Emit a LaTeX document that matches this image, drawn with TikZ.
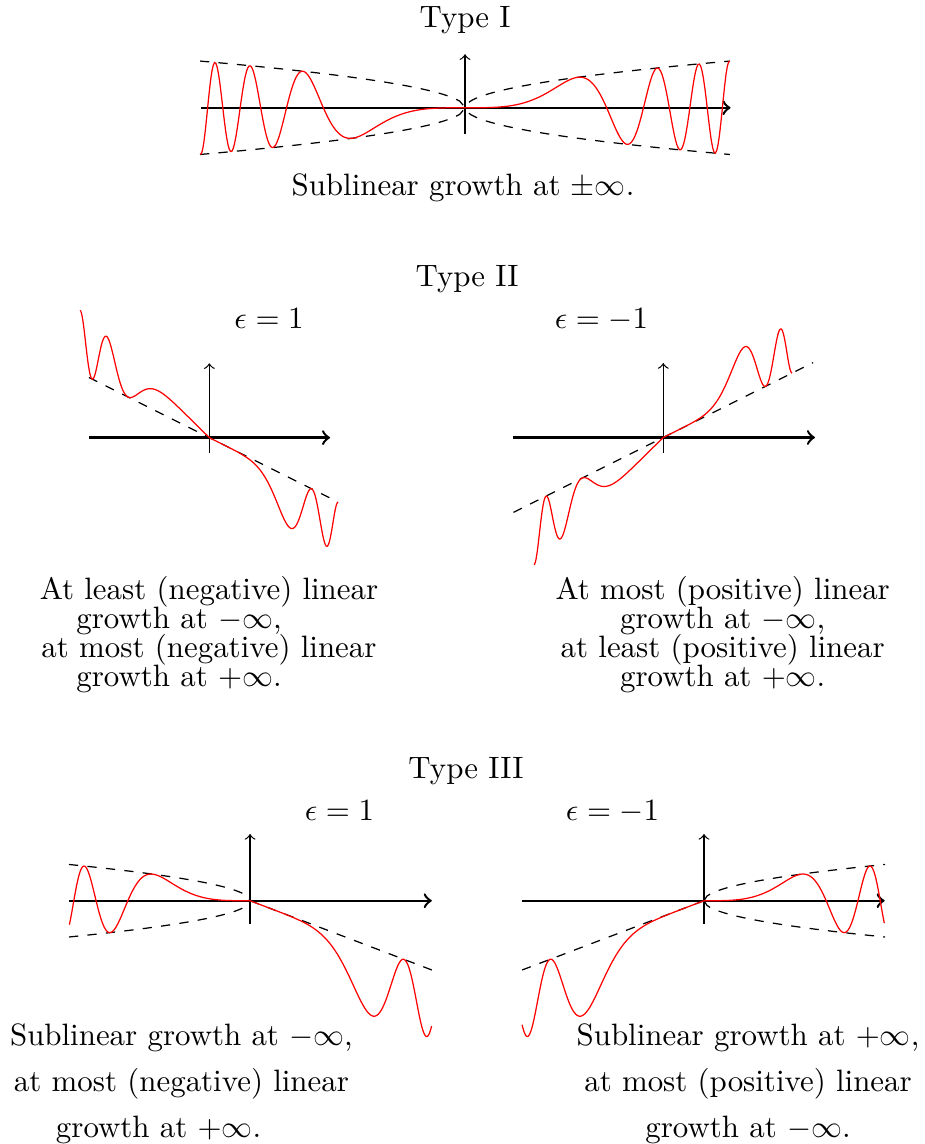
\documentclass[tikz,border=0pt]{standalone}
\tikzset{
  haxis/.style={thick,->},
  vaxis/.style={->},
  wave/.style={red,samples=400},
  bound/.style={dashed},
  declare function={
    wone(\x)=sqrt(abs(\x))*sin(\x*\x*\x r);
    wtwo(\x)=-0.5*\x+(\x<0 ? -0.243*\x*(1+cos(\x*\x*\x r)) : -0.45*(1-cos(\x*\x*\x r)));
    wthree(\x)=(\x<0 ? sqrt(abs(\x))*sin(abs(\x)*abs(\x)*abs(\x) r) : -1.291*\x-1.393*(1-cos(\x*\x*\x r)));
  }
}

\begin{document}
\begin{tikzpicture}
  \useasboundingbox (0,0) rectangle (10.521,-13.012);

  % Type I
  \node[anchor=base] (ttlI) at (5.289,-0.318) {Type I};
  \begin{scope}[shift={(5.289,-1.226)}]
    \draw[haxis] (-3.0,0) -- (3.02,0);
    \draw[vaxis] (0,-0.296) -- (0,0.609);
    \begin{scope}[x=1.1cm,y=0.321cm]
      \draw[bound] plot[domain=-2.74:2.74,samples=101] (\x,{sqrt(abs(\x))});
      \draw[bound] plot[domain=-2.74:2.74,samples=101] (\x,{-sqrt(abs(\x))});
      \draw[wave] plot[domain=-2.74:2.74] (\x,{wone(\x)});
    \end{scope}
  \end{scope}
  \node[anchor=base] (subI) at (5.266,-2.229) {Sublinear growth at $\pm\infty$.};

  % Type II
  \node[anchor=base] (ttlII) at (5.312,-3.261) {Type II};
  \node[anchor=base] (epsIIa) at (3.060,-3.731) {$\epsilon = 1$};
  \node[anchor=base] (epsIIb) at (6.841,-3.731) {$\epsilon = -1$};
  \begin{scope}[shift={(2.381,-4.978)}]
    \draw[haxis] (-1.368,0) -- (1.373,0);
    \draw[vaxis] (0,-0.177) -- (0,0.846);
    \begin{scope}[x=0.631cm,y=0.631cm]
      \draw[bound] (-2.17,1.085) -- (2.19,-1.095);
      \draw[wave] plot[domain=-2.328:2.328] (\x,{wtwo(\x)});
    \end{scope}
  \end{scope}
  \begin{scope}[shift={(7.544,-4.976)}]
    \draw[haxis] (-1.713,0) -- (1.725,0);
    \draw[vaxis] (0,-0.177) -- (0,0.846);
    \begin{scope}[x=0.631cm,y=0.631cm]
      \draw[bound] (-2.70,-1.35) -- (2.70,1.35);
      \draw[wave] plot[domain=-2.328:2.328] (\x,{-wtwo(\x)});
    \end{scope}
  \end{scope}
  % base = last line
  \node[anchor=base,align=center] (capIIa) at (2.377,-7.810)
    {At least (negative) linear\\[-2.55pt]
     growth at $-\infty$,\hspace*{19.4pt}\mbox{}\\[-2.55pt]
     at most (negative) linear\\[-2.55pt]
     growth at $+\infty$.\hspace*{19.4pt}\mbox{}};
  \node[anchor=base,align=center] (capIIb) at (8.220,-7.810)
    {At most (positive) linear\\[-2.55pt]
     growth at $-\infty$,\\[-2.55pt]
     at least (positive) linear\\[-2.55pt]
     growth at $+\infty$.};

  % Type III
  \node[anchor=base] (ttlIII) at (5.300,-8.860) {Type III};
  \node[anchor=base] (epsIIIa) at (3.861,-9.327) {$\epsilon = 1$};
  \node[anchor=base] (epsIIIb) at (6.967,-9.327) {$\epsilon = -1$};
  \begin{scope}[shift={(2.844,-10.245)}]
    \draw[haxis] (-2.055,0) -- (2.067,0);
    \draw[vaxis] (0,-0.265) -- (0,0.759);
    \begin{scope}[x=0.949cm,y=0.28cm]
      \draw[bound] plot[domain=-2.17:0,samples=61] (\x,{sqrt(abs(\x))});
      \draw[bound] plot[domain=-2.17:0,samples=61] (\x,{-sqrt(abs(\x))});
      \draw[bound] (0,0) -- (2.179,-2.813);
      \draw[wave] plot[domain=-2.165:2.18] (\x,{wthree(\x)});
    \end{scope}
  \end{scope}
  \begin{scope}[shift={(8.007,-10.245)}]
    \draw[haxis] (-2.07,0) -- (2.055,0);
    \draw[vaxis] (0,-0.265) -- (0,0.759);
    \begin{scope}[x=0.949cm,y=0.28cm]
      \draw[bound] plot[domain=0:2.17,samples=61] (\x,{sqrt(abs(\x))});
      \draw[bound] plot[domain=0:2.17,samples=61] (\x,{-sqrt(abs(\x))});
      \draw[bound] (0,0) -- (-2.179,-2.813);
      \draw[wave] plot[domain=-2.18:2.165] (\x,{wthree(-1*\x)});
    \end{scope}
  \end{scope}
  \node[anchor=base,align=center] (capIIIa) at (2.064,-12.936)
    {Sublinear growth at $-\infty$,\\[2.8pt]
     at most (negative) linear\\[2.8pt]
     growth at $+\infty$.\hspace*{14.8pt}\mbox{}};
  \node[anchor=base,align=center] (capIIIb) at (8.508,-12.936)
    {Sublinear growth at $+\infty$,\\[2.8pt]
     at most (positive) linear\\[2.8pt]
     growth at $-\infty$.};
\end{tikzpicture}
\end{document}
